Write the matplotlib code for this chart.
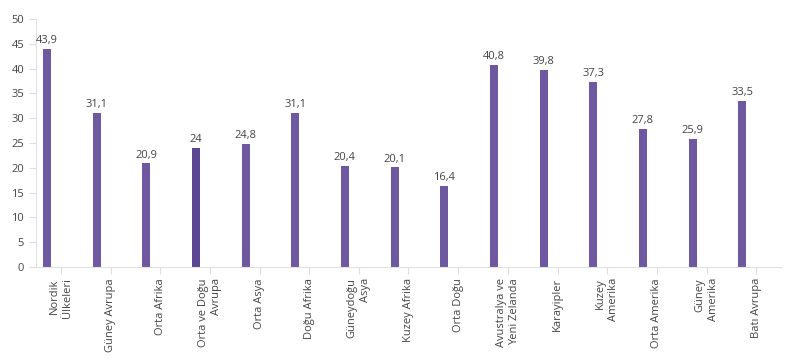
import numpy as np
import matplotlib
matplotlib.use("Agg")
from matplotlib import pyplot as plt

regions = ["Nordik\nÜlkeleri", "Güney Avrupa", "Orta Afrika", "Orta ve Doğu\nAvrupa",
           "Orta Asya", "Doğu Afrika", "Güneydoğu\nAsya", "Kuzey Afrika", "Orta Doğu",
           "Avustralya ve\nYeni Zelanda", "Karayipler", "Kuzey\nAmerika", "Orta Amerika",
           "Güney\nAmerika", "Batı Avrupa"]
values = [43.9, 31.1, 20.9, 24, 24.8, 31.1, 20.4, 20.1, 16.4, 40.8, 39.8, 37.3, 27.8, 25.9, 33.5]
highlight = "Orta ve Doğu\nAvrupa"

plt.rcParams['font.family'] = ['Open Sans', 'DejaVu Sans']

fig = plt.figure(figsize=(7.96, 3.6), dpi=100)
ax = fig.add_axes([36/796, 1-267/360, (781-36)/796, (267-19)/360])

x = np.arange(len(regions))
colors = ['#5c4591' if r == highlight else '#6e58a0' for r in regions]
bars = ax.bar(x - 0.28, values, 0.16, color=colors)
for b, v in zip(bars, values):
    lbl = ('%g' % v).replace('.', ',')
    ax.annotate(lbl, (b.get_x() + b.get_width()/2, v), xytext=(0, 2),
                textcoords='offset points', ha='center', va='bottom',
                fontsize=8, color='#444444')

ax.set_xlim(-0.5, len(regions) - 0.5)
ax.set_ylim(0, 50)
ax.set_yticks(range(0, 51, 5))
ax.set_xticks(x)
ax.set_xticklabels(regions, rotation=90, ha='center', va='top', multialignment='right',
                   fontsize=8, color='#444444', linespacing=1.25)
ax.tick_params(axis='y', labelsize=8, labelcolor='#444444', color='#dddddd', length=5, width=0.8)
ax.tick_params(axis='x', color='#dddddd', length=5, width=0.8, pad=3)

for s in ['top', 'right']:
    ax.spines[s].set_visible(False)
ax.spines['left'].set_color('#e0e0e0')
ax.spines['bottom'].set_color('#e0e0e0')
ax.spines['left'].set_linewidth(0.8)
ax.spines['bottom'].set_linewidth(0.8)

fig.savefig('out.png', dpi=100)
plt.close(fig)
